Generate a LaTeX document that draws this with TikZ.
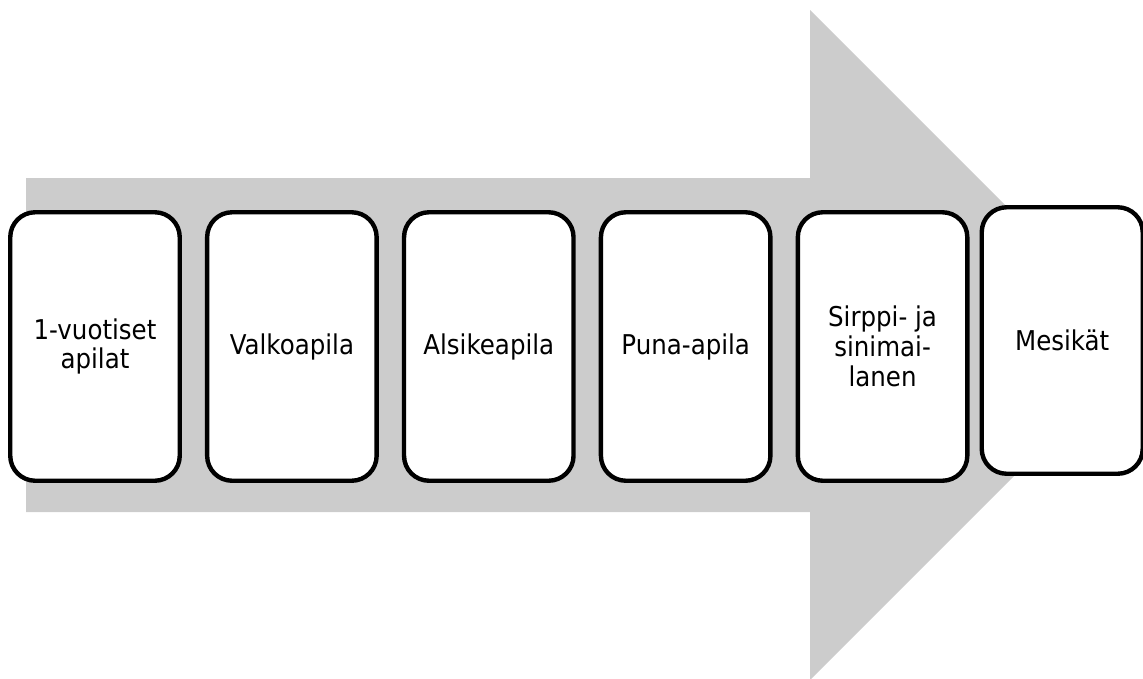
\documentclass[tikz,border=0pt]{standalone}
\usepackage{fontspec}
\setmainfont{DejaVu Sans}[FakeStretch=0.9]
\usepackage{xcolor}
\usepackage{tikz}
\usetikzlibrary{positioning}

\definecolor{arrowgray}{RGB}{204,204,204}

\begin{document}
\begin{tikzpicture}[
                font=\fontsize{15.5}{17}\selectfont,
                stage/.style={draw, line width=2.5pt, rounded corners=0.5cm, fill=white, align=center, minimum width=3.39cm, minimum height=5.37cm, inner sep=0pt},
                last/.style={stage, minimum width=3.22cm, minimum height=5.33cm},
                flow/.style={fill=arrowgray}
            ]
            \useasboundingbox (0,0) rectangle (22.86,-13.56);
            % big background arrow
            \fill[flow] (0.52,-3.56) -- (16.2,-3.56) -- (16.2,-0.2) -- (22.9,-6.9)
                -- (16.2,-13.6) -- (16.2,-10.24) -- (0.52,-10.24) -- cycle;
            \node[stage] (vuotiset) at (1.9,-6.93) {1-vuotiset\\apilat};
            \node[stage, right=0.46cm of vuotiset] (valko) {Valkoapila};
            \node[stage, right=0.46cm of valko] (alsike) {Alsikeapila};
            \node[stage, right=0.46cm of alsike] (puna) {Puna-apila};
            \node[stage, right=0.46cm of puna] (sirppi) {Sirppi- ja\\sinimai-\\lanen};
            \node[last, right=0.2cm of sirppi, yshift=0.12cm] (mesi) {Mesikät};
        \end{tikzpicture}
\end{document}
